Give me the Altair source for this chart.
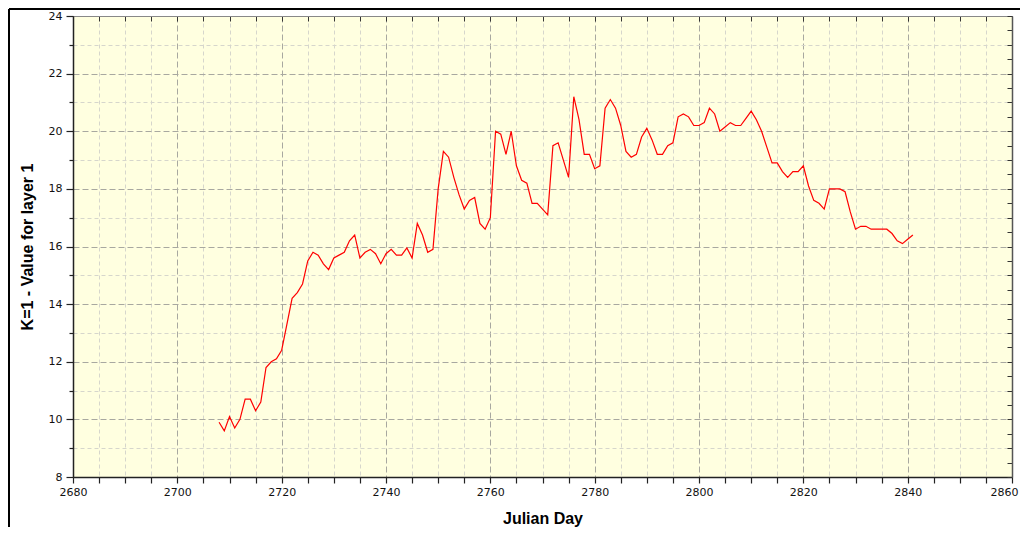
import altair as alt
import pandas as pd

days = list(range(2708, 2842))
values = [
    9.9, 9.6, 10.1, 9.7, 10.0, 10.7, 10.7, 10.3, 10.6, 11.8,
    12.0, 12.1, 12.4, 13.3, 14.2, 14.4, 14.7, 15.5, 15.8, 15.7,
    15.4, 15.2, 15.6, 15.7, 15.8, 16.2, 16.4, 15.6, 15.8, 15.9,
    15.75, 15.4, 15.75, 15.9, 15.7, 15.7, 15.95, 15.6, 16.8, 16.4,
    15.8, 15.9, 18.0, 19.3, 19.1, 18.4, 17.8, 17.3, 17.6, 17.7,
    16.8, 16.6, 17.0, 20.0, 19.9, 19.2, 20.0, 18.8, 18.3, 18.2,
    17.5, 17.5, 17.3, 17.1, 19.5, 19.6, 19.0, 18.4, 21.2, 20.4,
    19.2, 19.2, 18.7, 18.8, 20.8, 21.1, 20.8, 20.2, 19.3, 19.1,
    19.2, 19.8, 20.1, 19.7, 19.2, 19.2, 19.5, 19.6, 20.5, 20.6,
    20.5, 20.2, 20.2, 20.3, 20.8, 20.6, 20.0, 20.15, 20.3, 20.2,
    20.2, 20.45, 20.7, 20.4, 20.0, 19.45, 18.9, 18.9, 18.6, 18.4,
    18.6, 18.6, 18.8, 18.1, 17.6, 17.5, 17.3, 18.0, 18.0, 18.0,
    17.9, 17.2, 16.6, 16.7, 16.7, 16.6, 16.6, 16.6, 16.6, 16.45,
    16.2, 16.1, 16.25, 16.4,
]
x_ticks = list(range(2680, 2861, 5))
y_ticks = [8 + 0.5 * i for i in range(33)]

df = pd.DataFrame({"day": days, "value": values})

W, H = 939, 461
PAD_R = 8
LABEL_FONT = "DejaVu Sans"
TITLE_FONT = "Liberation Sans"

x_scale = alt.Scale(domain=[2680, 2860], nice=False, zero=False)
y_scale = alt.Scale(domain=[8, 24], nice=False, zero=False)

major_x = "datum.value % 20 === 0"
major_y = "datum.value % 2 === 0"
last_x = "datum.value === 2860"

x_axis = alt.Axis(
    orient="bottom",
    values=x_ticks,
    format="d",
    labelExpr=f"{major_x} ? datum.label : ''",
    labelFont=LABEL_FONT, labelFontSize=11, labelColor="#111",
    labelPadding=3, labelFlush=False, labelOverlap=False,
    labelAlign={"condition": {"test": last_x, "value": "right"}, "value": "center"},
    labelOffset={"condition": {"test": last_x, "value": 6}, "value": 0},
    tickSize=6, tickColor="#222", tickWidth=1.2,
    domainColor="#222", domainWidth=1.5,
    grid=True,
    gridColor={"condition": {"test": major_x, "value": "#a8a8a0"}, "value": "#d6d6cc"},
    gridDash={"condition": {"test": major_x, "value": [6, 3]}, "value": [4, 3]},
    gridWidth=1,
    title="Julian Day",
    titleFont=TITLE_FONT, titleFontSize=16, titleFontWeight="bold", titleColor="#000",
    titleY=41, titleBaseline="middle",
)

y_axis = alt.Axis(
    orient="left",
    values=y_ticks,
    format="d",
    labelExpr=f"{major_y} ? datum.label : ''",
    labelFont=LABEL_FONT, labelFontSize=11, labelColor="#111",
    labelPadding=4, labelFlush=False, labelOverlap=False,
    tickSize={"condition": {"test": major_y, "value": 7}, "value": 4},
    tickColor="#222", tickWidth=1.2,
    domainColor="#222", domainWidth=1.5,
    grid=True,
    gridColor={"condition": {"test": major_y, "value": "#a8a8a0"}, "value": "#d6d6cc"},
    gridDash={"condition": {"test": major_y, "value": [6, 3]}, "value": [4, 3]},
    gridWidth=1,
    title="K=1 - Value for layer 1",
    titleFont=TITLE_FONT, titleFontSize=16, titleFontWeight="bold", titleColor="#000",
    titleX=-46, titleY=H / 2, titleAngle=-90, titleBaseline="middle", titleAlign="center",
)

line = alt.Chart(df).mark_line(color="#ff0000", strokeWidth=1.2).encode(
    x=alt.X("day:Q", scale=x_scale, axis=x_axis),
    y=alt.Y("value:Q", scale=y_scale, axis=y_axis),
)

mirror = alt.Chart(df).mark_line(opacity=0).encode(
    x=alt.X("day:Q", scale=x_scale, axis=alt.Axis(
        orient="top", values=x_ticks, labels=False, grid=False, title=None,
        tickSize={"expr": "-5"}, tickColor="#333", domainColor="#888")),
    y=alt.Y("value:Q", scale=y_scale, axis=alt.Axis(
        orient="right", values=y_ticks, labels=False, grid=False, title=None,
        tickSize={"expr": "-5"}, tickColor="#333", domainColor="#555", domainWidth=1.5)),
)

frame_top = alt.Chart(df).mark_rule(color="#000", strokeWidth=2).encode(
    x=alt.value(-64), x2=alt.value(W + PAD_R), y=alt.value(-7)
)
frame_left = alt.Chart(df).mark_rule(color="#000", strokeWidth=2).encode(
    x=alt.value(-64), y=alt.value(-7), y2=alt.value(H + 50)
)

chart = alt.layer(line, mirror, frame_top, frame_left).resolve_axis(
    x="independent", y="independent"
).properties(
    width=W, height=H,
    autosize=alt.AutoSizeParams(type="none"),
    padding={"left": 65, "top": 8, "right": PAD_R, "bottom": 50},
    background="#ffffff",
).configure_view(fill="#FFFFE0", stroke="#888888", strokeWidth=1)

chart.save("out.html", embed_options={"renderer": "svg", "actions": False})
